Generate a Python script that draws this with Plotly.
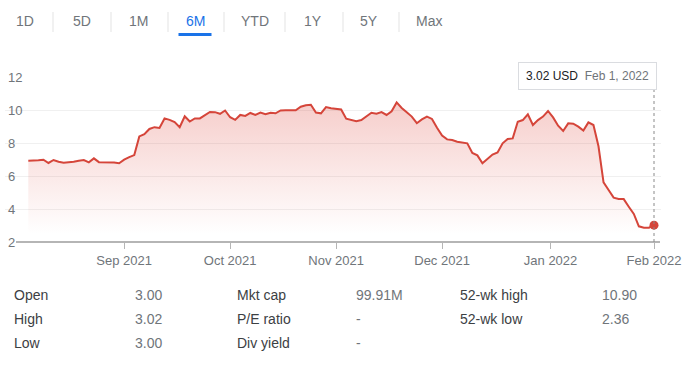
import numpy as np
import pandas as pd
import plotly.graph_objects as go

# ---------------- data ----------------
holidays = ["2021-09-06", "2021-11-25", "2021-12-24", "2022-01-17"]
dates = pd.bdate_range("2021-08-05", "2022-02-01", freq="C", holidays=holidays)

prices = [
    6.93, 6.93, 6.96, 6.99, 6.79, 6.97, 6.86, 6.80, 6.81, 6.86,
    6.93, 6.97, 6.83, 7.07, 6.84, 6.83, 6.85, 6.82, 6.77, 6.99,
    7.14, 7.27, 8.40, 8.53, 8.85, 8.96, 8.91, 9.49, 9.40, 9.27,
    8.96, 9.62, 9.30, 9.49, 9.49, 9.68, 9.88, 9.87, 9.77, 9.97,
    9.56, 9.40, 9.70, 9.64, 9.82, 9.70, 9.84, 9.74, 9.83, 9.80,
    9.97, 9.98, 9.98, 9.98, 10.20, 10.29, 10.32, 9.85, 9.80, 10.18,
    10.11, 10.07, 10.03, 9.47, 9.41, 9.32, 9.39, 9.60, 9.83, 9.78,
    9.87, 9.70, 9.92, 10.46, 10.12, 9.86, 9.60, 9.20, 9.43, 9.60,
    9.46, 8.92, 8.45, 8.22, 8.18, 8.08, 8.02, 7.98, 7.40, 7.25,
    6.77, 7.05, 7.30, 7.43, 7.98, 8.24, 8.28, 9.29, 9.39, 9.74,
    9.09, 9.39, 9.60, 9.94, 9.55, 9.05, 8.73, 9.19, 9.17, 8.99,
    8.75, 9.25, 9.09, 7.80, 5.62, 5.15, 4.69, 4.61, 4.60, 4.14,
    3.70, 2.95, 2.87, 2.87, 3.02,
]
assert len(dates) == len(prices), (len(dates), len(prices))

currency = "USD"
month_starts = ["2021-09-01", "2021-10-01", "2021-11-01", "2021-12-01", "2022-01-01", "2022-02-01"]
y_ticks = [2, 4, 6, 8, 10, 12]

tabs = ["1D", "5D", "1M", "6M", "YTD", "1Y", "5Y", "Max"]
selected_tab = "6M"

stats_col1_labels = ["Open", "High", "Low"]
stats_col1_values = ["3.00", "3.02", "3.00"]
stats_col2_labels = ["Mkt cap", "P/E ratio", "Div yield"]
stats_col2_values = ["99.91M", "-", "-"]
stats_col3_labels = ["52-wk high", "52-wk low"]
stats_col3_values = ["10.90", "2.36"]

# ---------------- layout geometry (pixels) ----------------
W, H = 700, 366
L, R = 5, 661          # plot area left/right
T, B = 77, 242         # plot area top/bottom
PX_FIRST, PX_LAST = 28.3, 654.0

idx = np.arange(len(dates))
n = len(dates) - 1
per = (PX_LAST - PX_FIRST) / n
x_lo = 0 - (PX_FIRST - L) / per
x_hi = n + (R - PX_LAST) / per


def pxx(xp):
    return (xp - L) / (R - L)


def pxy(yp):
    return (B - yp) / (B - T)


# tick positions from month starts (between trading days when month starts on a holiday/weekend)
tickvals, ticktext = [], []
for m in pd.to_datetime(month_starts):
    pos = int(np.searchsorted(dates.values, np.datetime64(m)))
    if pos < len(dates) and dates[pos] != m:
        pos = pos - 0.5
    tickvals.append(pos)
    ticktext.append(m.strftime("%b %Y"))

RED = "#d5453a"
FONT = "Liberation Sans, Arial, sans-serif"
GREY = "#70757a"
DARK = "#3c4043"

fig = go.Figure()
fig.add_trace(go.Scatter(
    x=idx, y=prices, mode="lines",
    line=dict(color=RED, width=2),
    fill="tozeroy",
    fillgradient=dict(type="vertical", start=2.5, stop=10.5,
                      colorscale=[[0, "rgba(217,48,37,0)"], [1, "rgba(217,48,37,0.24)"]]),
    hoverinfo="skip", showlegend=False,
))
fig.add_trace(go.Scatter(
    x=[idx[-1]], y=[prices[-1]], mode="markers",
    marker=dict(color=RED, size=9),
    hoverinfo="skip", showlegend=False,
))

shapes = []
annotations = []

# baseline
shapes.append(dict(type="line", xref="paper", yref="paper", x0=pxx(16), x1=pxx(660), y0=0, y1=0,
                   line=dict(color="#b5b5b5", width=2)))
# dotted crosshair line
shapes.append(dict(type="line", xref="x", yref="paper", x0=idx[-1], x1=idx[-1], y0=0, y1=pxy(90),
                   line=dict(color="#8a8a8a", width=1, dash="dot")))

# tooltip
last_date = dates[-1]
tip_text = (f"<span style='color:#202124'>{prices[-1]:.2f} {currency}</span>"
            f"&nbsp;&nbsp;<span style='color:#70757a'>{last_date.strftime('%b')} {last_date.day}, {last_date.year}</span>")
annotations.append(dict(
    x=idx[-1], xref="x", y=pxy(90), yref="paper", xanchor="right", yanchor="bottom",
    xshift=3, text=tip_text, showarrow=False, font=dict(family=FONT, size=12),
    bgcolor="white", bordercolor="#dadce0", borderwidth=1, borderpad=6, width=125,
))

# tabs
tab_centers = [25, 82, 138, 195, 255, 313, 369, 429]
seps = [53, 111, 168, 224, 285, 343, 399]
for t, cx in zip(tabs, tab_centers):
    annotations.append(dict(
        x=pxx(cx), y=pxy(21), xref="paper", yref="paper", xanchor="center", yanchor="middle",
        text=t, showarrow=False,
        font=dict(family=FONT, size=14, color="#1a73e8" if t == selected_tab else GREY),
    ))
for sx in seps:
    shapes.append(dict(type="line", xref="paper", yref="paper", x0=pxx(sx), x1=pxx(sx),
                       y0=pxy(12), y1=pxy(32), line=dict(color="#e3e3e3", width=1)))
sel_cx = tab_centers[tabs.index(selected_tab)]
shapes.append(dict(type="rect", xref="paper", yref="paper", x0=pxx(sel_cx - 16.5), x1=pxx(sel_cx + 16.5),
                   y0=pxy(36), y1=pxy(33), fillcolor="#1a73e8", line=dict(width=0)))

# stats table
row_y = [295, 319, 343]
cols = [
    (12, 133, stats_col1_labels, stats_col1_values),
    (235, 354, stats_col2_labels, stats_col2_values),
    (458, 600, stats_col3_labels, stats_col3_values),
]
for lx, vx, labs, vals in cols:
    for ry, lab, val in zip(row_y, labs, vals):
        annotations.append(dict(x=pxx(lx), y=pxy(ry), xref="paper", yref="paper", xanchor="left",
                                yanchor="middle", text=lab, showarrow=False,
                                font=dict(family=FONT, size=14, color=DARK)))
        annotations.append(dict(x=pxx(vx), y=pxy(ry), xref="paper", yref="paper", xanchor="left",
                                yanchor="middle", text=val, showarrow=False,
                                font=dict(family=FONT, size=14, color=GREY)))

fig.update_layout(
    width=W, height=H,
    margin=dict(l=L, r=W - R, t=T, b=H - B, pad=0),
    paper_bgcolor="white", plot_bgcolor="white",
    hovermode=False,
    shapes=shapes, annotations=annotations,
    xaxis=dict(
        range=[x_lo, x_hi], tickvals=tickvals, ticktext=ticktext,
        showgrid=False, zeroline=False, showline=False,
        ticks="outside", ticklen=6, tickcolor="#b5b5b5", tickwidth=1,
        tickfont=dict(family=FONT, size=13, color=GREY),
        fixedrange=True,
    ),
    yaxis=dict(
        range=[2, 12], tickvals=y_ticks,
        showgrid=True, gridcolor="#f0f0f0", gridwidth=1,
        zeroline=False, showline=False, ticks="",
        ticklabelposition="inside", ticklabeloverflow="allow",
        tickfont=dict(family=FONT, size=13, color=GREY),
        fixedrange=True,
    ),
)

fig.write_html(
    "out.html",
    config={"displayModeBar": False, "staticPlot": True},
    post_script="document.body.style.margin='0';document.body.style.overflow='hidden';",
)
